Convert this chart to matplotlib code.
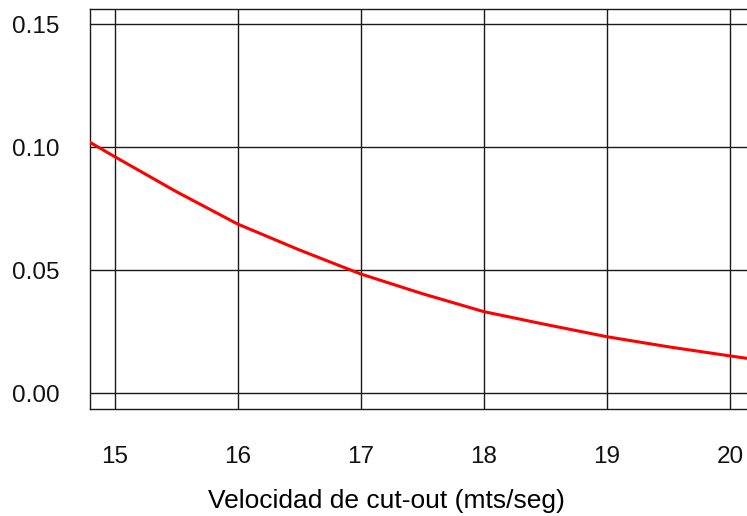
import matplotlib
matplotlib.use("Agg")
import matplotlib.pyplot as plt
from matplotlib.ticker import FormatStrFormatter

# Data
velocidad = [14.80, 15.0, 15.5, 16.0, 16.5, 17.0, 17.5, 18.0, 18.5, 19.0, 19.5, 20.0, 20.14]
valores = [0.1020, 0.0962, 0.0820, 0.0688, 0.0583, 0.0485, 0.0405, 0.0332, 0.0280, 0.0230, 0.0189, 0.0152, 0.0142]
xticks = [15, 16, 17, 18, 19, 20]
yticks = [0.00, 0.05, 0.10, 0.15]
xlabel = "Velocidad de cut-out (mts/seg)"

plt.rcParams['font.family'] = ['Liberation Sans', 'DejaVu Sans']

W, H = 747, 516
fig = plt.figure(figsize=(W / 100, H / 100), dpi=100)

xmin, xmax = 14.80, 20.20
px_per_unit = 123.06
left_px, top_px, bottom_px = 90, 9, 408.7
right_px = left_px + (xmax - xmin) * px_per_unit
ax = fig.add_axes([left_px / W, (H - bottom_px) / H,
                   (right_px - left_px) / W, (bottom_px - top_px) / H])

ax.plot(velocidad, valores, color='#ff0000', linewidth=2.2, zorder=3)

ax.set_xlim(xmin, xmax)
ax.set_ylim(-0.00626, 0.1562)
ax.set_xticks(xticks)
ax.set_yticks(yticks)
ax.yaxis.set_major_formatter(FormatStrFormatter('%.2f'))
ax.grid(True, color='#1a1a1a', linewidth=1.0, zorder=1)
ax.set_axisbelow(True)

for s in ax.spines.values():
    s.set_color('#1a1a1a')
    s.set_linewidth(1.0)
ax.spines['right'].set_visible(False)

ax.tick_params(axis='both', length=0, labelsize=17.5, colors='#111111')
ax.tick_params(axis='x', pad=27)
ax.tick_params(axis='y', pad=22)

ax.set_xlabel(xlabel, fontsize=19, labelpad=8, color='black')
ax.xaxis.set_label_coords((386 - left_px) / (right_px - left_px), -0.2)
ax.xaxis.label.set_verticalalignment('top')

fig.savefig("out.png", dpi=100)
